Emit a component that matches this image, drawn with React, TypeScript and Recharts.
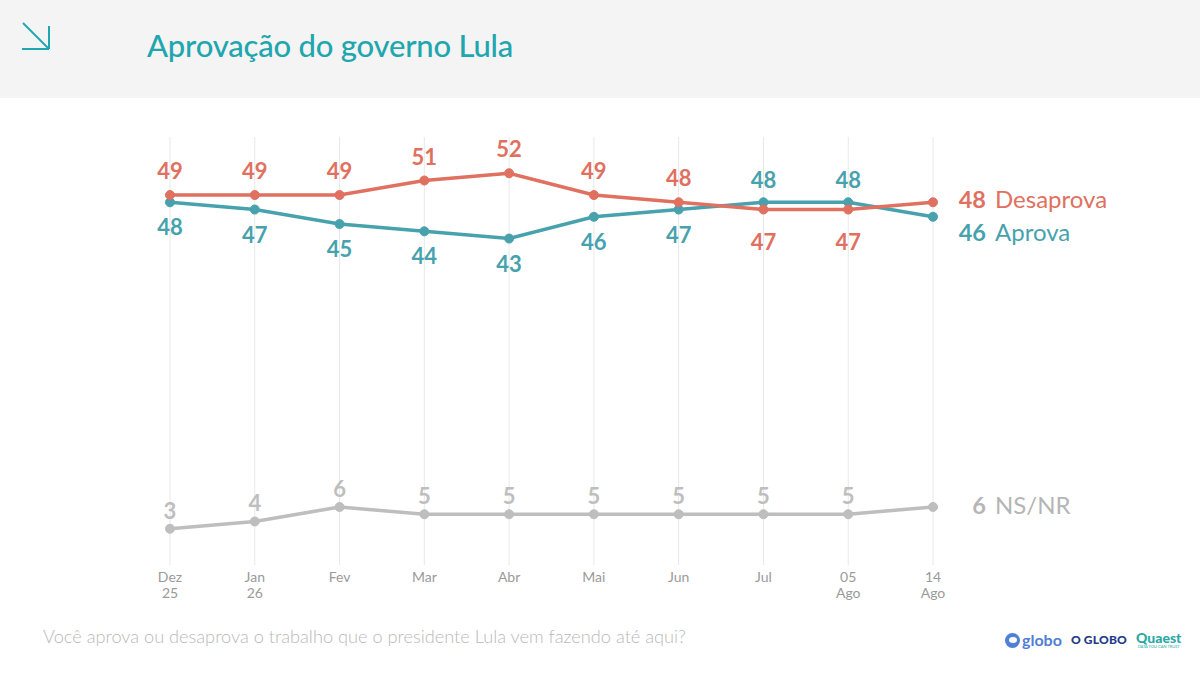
import React from 'react';
import { LineChart, Line, XAxis, YAxis, CartesianGrid, LabelList } from 'recharts';

const tickTop = ['Dez', 'Jan', 'Fev', 'Mar', 'Abr', 'Mai', 'Jun', 'Jul', '05', '14'];
const tickBottom = ['25', '26', '', '', '', '', '', '', 'Ago', 'Ago'];
const desaprova = [49, 49, 49, 51, 52, 49, 48, 47, 47, 48];
const aprova = [48, 47, 45, 44, 43, 46, 47, 48, 48, 46];
const nsnr = [3, 4, 6, 5, 5, 5, 5, 5, 5, 6];

const C_DES = '#E0705F';
const C_APR = '#47A2AD';
const C_NS = '#BEBEBE';
const C_TITLE = '#1FA6AF';
const FONT = 'Lato, "Open Sans", sans-serif';

const data = tickTop.map((t, i) => ({
  key: `${t} ${tickBottom[i]}`.trim(),
  desaprova: desaprova[i],
  aprova: aprova[i],
  nsnr: nsnr[i],
}));
const last = data.length - 1;

const XTick = (props: any) => {
  const { x, y, index } = props;
  return (
    <text x={x} y={y} textAnchor="middle" fill="#9a9a9a" fontSize={14} fontFamily={FONT}>
      <tspan x={x} dy={17}>{tickTop[index]}</tspan>
      {tickBottom[index] ? <tspan x={x} dy={16}>{tickBottom[index]}</tspan> : null}
    </text>
  );
};

const sideLabel = (x: number, y: number, num: number, name: string, color: string) => (
  <g>
    <text x={x + 53} y={y} textAnchor="end" fill={color} fontSize={23.5} fontWeight={700} fontFamily={FONT}>
      {num}
    </text>
    <text x={x + 62} y={y} textAnchor="start" fill={color} fontSize={24} fontWeight={400} fontFamily={FONT}>
      {name}
    </text>
  </g>
);

const DesLabel = (props: any) => {
  const { x, y, value, index } = props;
  if (index === last) return sideLabel(x, y + 6, value, 'Desaprova', C_DES);
  const above = desaprova[index] >= aprova[index];
  return (
    <text x={x} y={above ? y - 16 : y + 40} textAnchor="middle" fill={C_DES} fontSize={22} fontWeight={700} fontFamily={FONT}>
      {value}
    </text>
  );
};

const AprLabel = (props: any) => {
  const { x, y, value, index } = props;
  if (index === last) return sideLabel(x, y + 24, value, 'Aprova', C_APR);
  const above = aprova[index] > desaprova[index];
  return (
    <text x={x} y={above ? y - 14 : y + 33} textAnchor="middle" fill={C_APR} fontSize={22} fontWeight={700} fontFamily={FONT}>
      {value}
    </text>
  );
};

const NsLabel = (props: any) => {
  const { x, y, value, index } = props;
  if (index === last) return sideLabel(x, y + 7, value, 'NS/NR', '#B5B5B5');
  return (
    <text x={x} y={y - 10} textAnchor="middle" fill={C_NS} fontSize={22} fontWeight={700} fontFamily={FONT}>
      {value}
    </text>
  );
};

export default function App() {
  return (
    <div style={{ position: 'absolute', left: 0, top: 0, width: 1200, height: 674, background: '#ffffff', overflow: 'hidden', fontFamily: FONT }}>
      <div style={{ position: 'absolute', left: 0, top: 0, width: 1200, height: 98, background: '#f4f4f4' }} />
      <svg style={{ position: 'absolute', left: 0, top: 0 }} width={80} height={80}>
        <g stroke={C_TITLE} strokeWidth={2} fill="none">
          <line x1={23} y1={23} x2={49} y2={49} />
          <line x1={49} y1={26} x2={49} y2={49} />
          <line x1={22} y1={49} x2={49} y2={49} />
        </g>
      </svg>
      <div style={{ position: 'absolute', left: 147, top: 26, fontSize: 31, color: C_TITLE, fontFamily: FONT, fontWeight: 500, letterSpacing: -0.2 }}>
        Aprovação do governo Lula
      </div>
      <div style={{ position: 'absolute', left: 0, top: 0 }}>
        <LineChart width={1200} height={674} data={data} margin={{ top: 137, right: 267, bottom: 79, left: 170 }}>
          <CartesianGrid horizontal={false} vertical={true} stroke="#e8e8e8" strokeWidth={1} />
          <XAxis dataKey="key" height={30} axisLine={false} tickLine={false} tickSize={0} tickMargin={0} interval={0} tick={<XTick />} padding={{ left: 0, right: 0 }} />
          <YAxis hide domain={[-2, 57]} type="number" />
          <Line dataKey="nsnr" stroke={C_NS} strokeWidth={3.5} dot={{ r: 4.5, fill: C_NS, stroke: C_NS, strokeWidth: 1 }} isAnimationActive={false}>
            <LabelList dataKey="nsnr" content={<NsLabel />} />
          </Line>
          <Line dataKey="aprova" stroke={C_APR} strokeWidth={3.5} dot={{ r: 4.5, fill: C_APR, stroke: C_APR, strokeWidth: 1 }} isAnimationActive={false}>
            <LabelList dataKey="aprova" content={<AprLabel />} />
          </Line>
          <Line dataKey="desaprova" stroke={C_DES} strokeWidth={3.5} dot={{ r: 4.5, fill: C_DES, stroke: C_DES, strokeWidth: 1 }} isAnimationActive={false}>
            <LabelList dataKey="desaprova" content={<DesLabel />} />
          </Line>
        </LineChart>
      </div>
      <div style={{ position: 'absolute', left: 43, top: 625, fontSize: 18.2, color: '#b9b9b9', fontFamily: FONT, fontWeight: 300 }}>
        Você aprova ou desaprova o trabalho que o presidente Lula vem fazendo até aqui?
      </div>
      <div style={{ position: 'absolute', left: 1005, top: 631, display: 'flex', alignItems: 'center' }}>
        <div style={{ width: 15, height: 15, borderRadius: '50%', background: '#4f7fd6', position: 'relative' }}>
          <div style={{ position: 'absolute', left: 3.5, top: 4.5, width: 8, height: 6, borderRadius: '50%', background: '#ffffff' }} />
        </div>
        <span style={{ marginLeft: 2, fontSize: 16, fontWeight: 700, color: '#4f7fd6', fontFamily: FONT, lineHeight: '16px' }}>globo</span>
        <span style={{ marginLeft: 9, fontSize: 12, fontWeight: 900, color: '#1e3a8a', fontFamily: FONT, lineHeight: '16px', letterSpacing: 0.2 }}>O GLOBO</span>
        <span style={{ marginLeft: 9, display: 'flex', flexDirection: 'column', alignItems: 'center' }}>
          <span style={{ fontSize: 14, fontWeight: 900, color: '#2aa9a4', fontFamily: FONT, lineHeight: '13px' }}>Quaest</span>
          <span style={{ fontSize: 4, color: '#2aa9a4', fontFamily: FONT, lineHeight: '5px' }}>DATA YOU CAN TRUST</span>
        </span>
      </div>
    </div>
  );
}
